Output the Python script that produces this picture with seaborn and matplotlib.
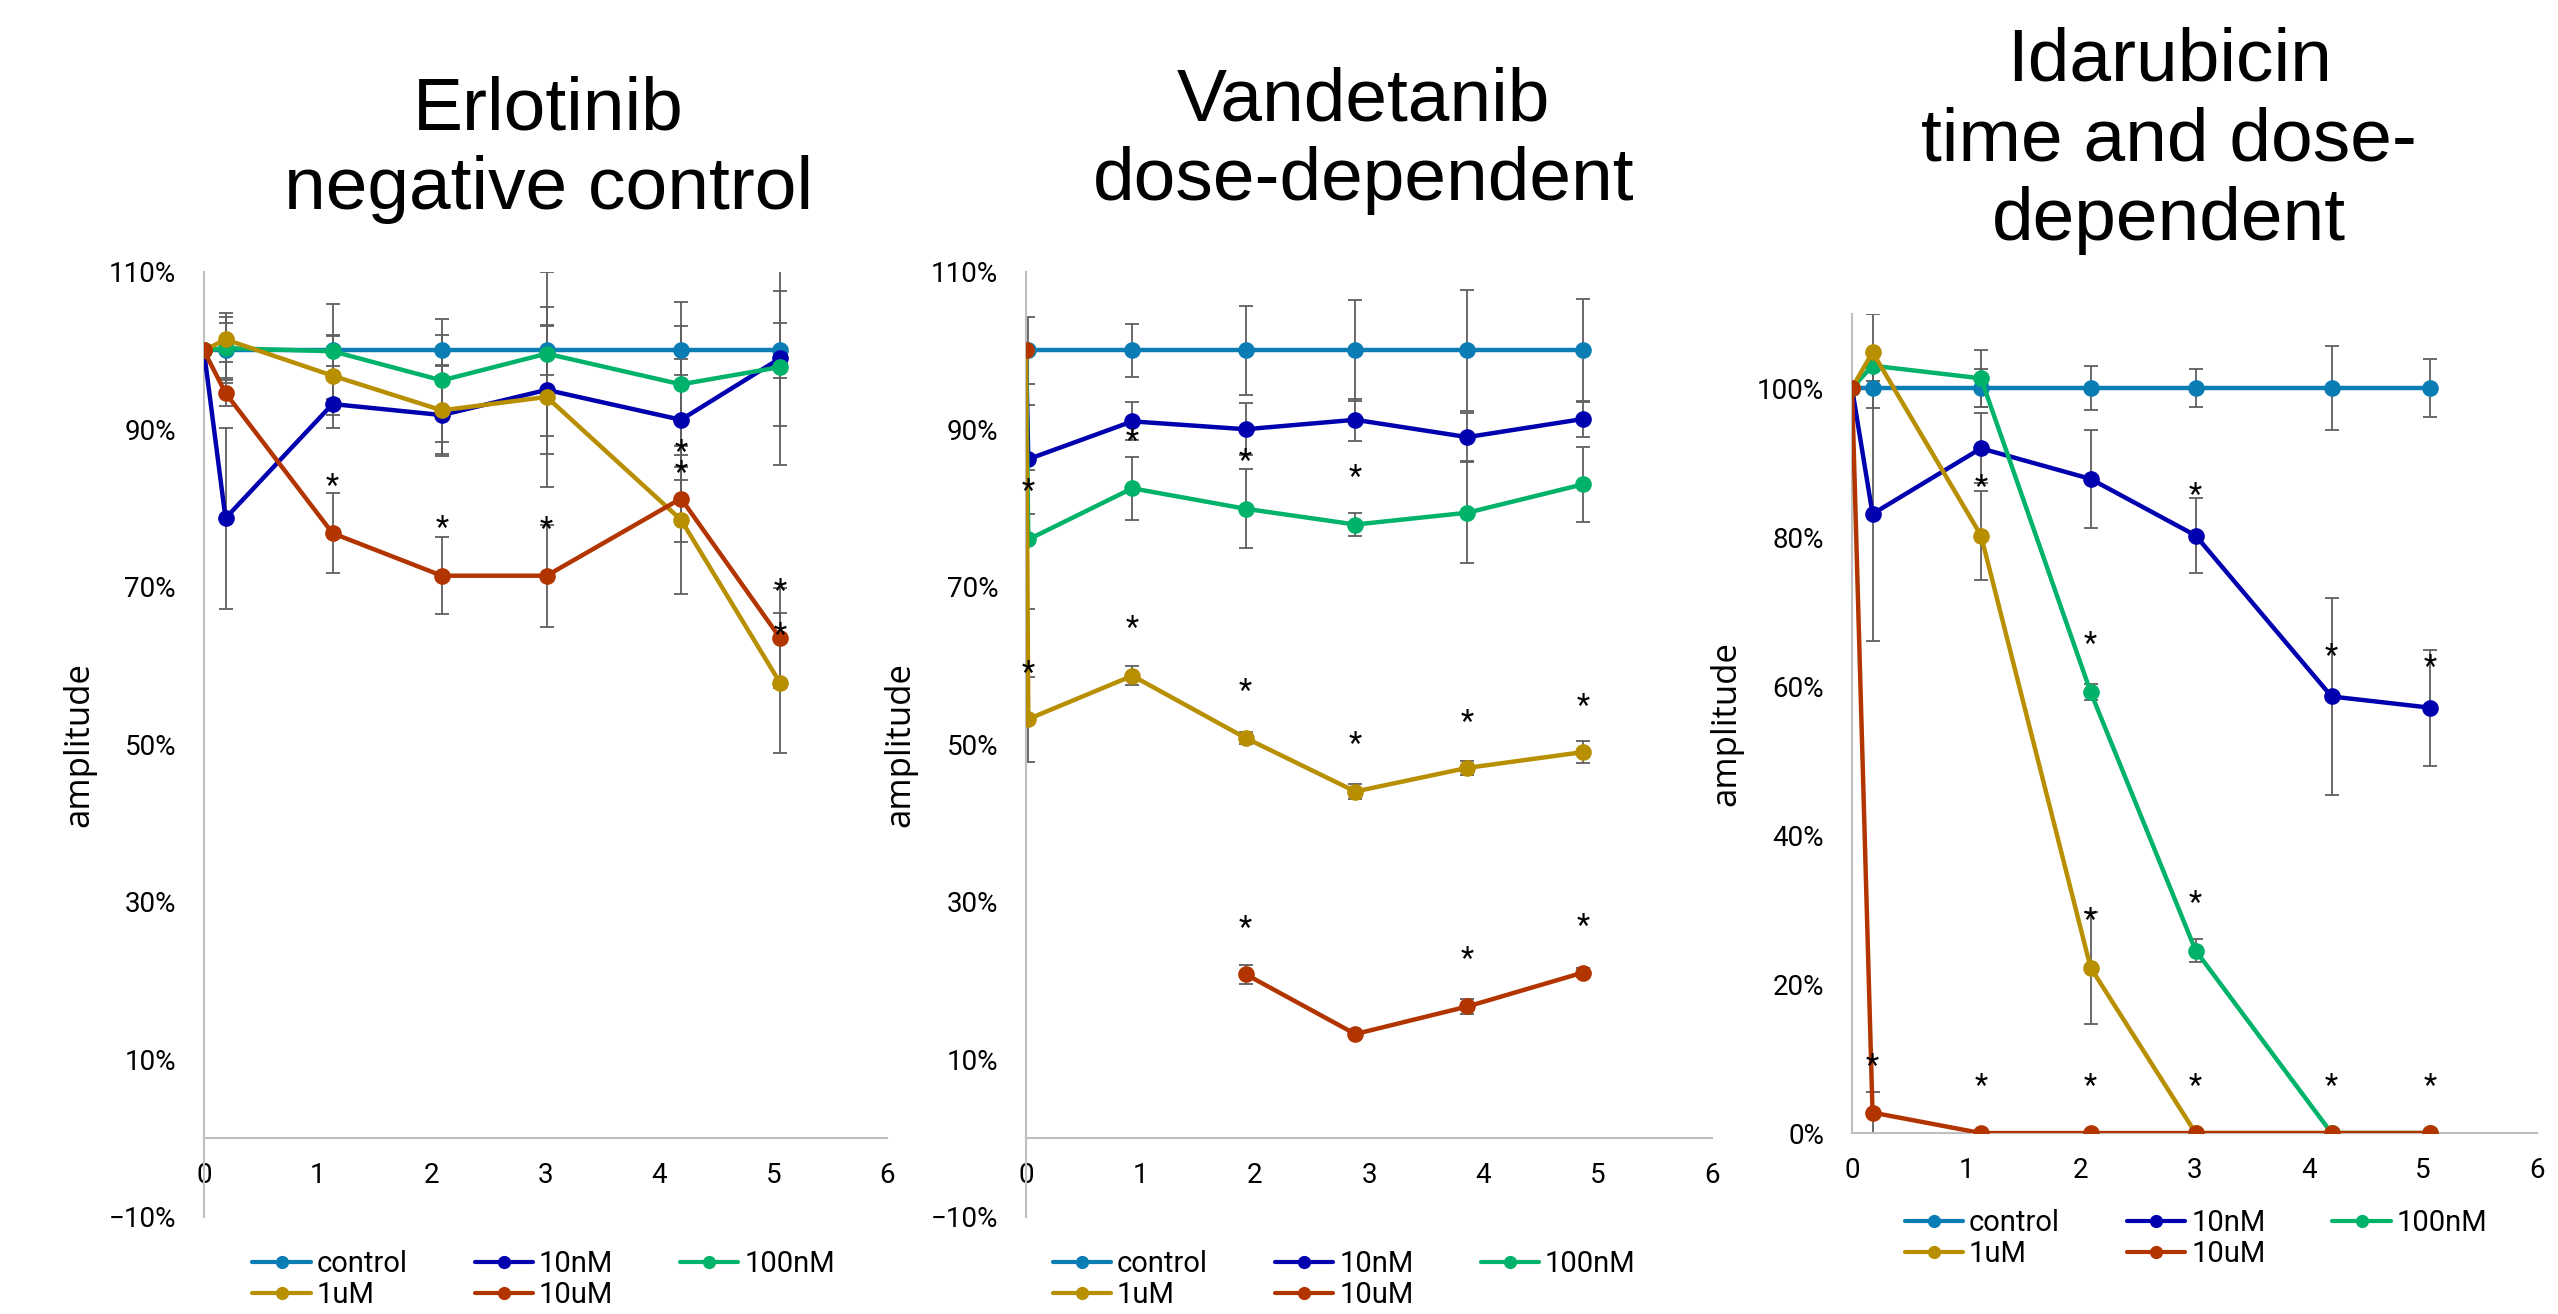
import numpy as np
import pandas as pd
import matplotlib
matplotlib.use('Agg')
import matplotlib.pyplot as plt
from matplotlib.lines import Line2D
from matplotlib.ticker import PercentFormatter
import seaborn as sns

series_names = ['control', '10nM', '100nM', '1uM', '10uM']
series_colors = ['#0B7DB5', '#0000AF', '#00B26A', '#B88F00', '#B23500']
nan = np.nan

# Erlotinib - negative control
erl_time = [0, 0.19, 1.13, 2.09, 3.01, 4.19, 5.06]
erl_control = [100, 100, 100, 100, 100, 100, 100]
erl_10nM = [100, 78.7, 93.2, 91.8, 95.0, 91.2, 99.0]
erl_100nM = [100, 100.3, 99.9, 96.2, 99.6, 95.7, 97.9]
erl_1uM = [100, 101.4, 96.8, 92.4, 94.1, 78.5, 57.8]
erl_10uM = [100, 94.6, 76.8, 71.4, 71.4, 81.2, 63.5]
erl_control_err = [0, 3.5, 2.0, 2.0, 3.1, 3.1, 3.5]
erl_10nM_err = [0, 11.5, 3.0, 5.0, 8.2, 7.7, 8.6]
erl_100nM_err = [0, 4.4, 6.0, 7.8, 10.4, 10.5, 12.4]
erl_1uM_err = [0, 2.8, 5.0, 5.8, 11.4, 9.4, 8.9]
erl_10uM_err = [0, 1.6, 5.1, 4.9, 6.5, 5.5, 6.3]
erl_star_x = [1.13, 2.09, 3.01, 4.19, 4.19, 5.06, 5.06]
erl_star_y = [83.8, 78.5, 78.3, 88.1, 85.4, 70.4, 64.8]

# Vandetanib - dose-dependent
van_time = [0, 0.02, 0.93, 1.92, 2.88, 3.86, 4.87]
van_control = [100, 100, 100, 100, 100, 100, 100]
van_10nM = [100, 86.2, 91.0, 90.0, 91.2, 89.0, 91.3]
van_100nM = [100, 76.0, 82.5, 79.9, 77.9, 79.4, 83.0]
van_1uM = [100, 53.2, 58.7, 50.8, 44.0, 47.0, 49.0]
van_10uM = [100, nan, nan, 20.8, 13.2, 16.7, 21.0]
van_control_err = [0, 4.2, 3.4, 5.6, 6.4, 7.7, 6.6]
van_10nM_err = [0, 6.9, 2.4, 3.3, 2.7, 3.0, 2.3]
van_100nM_err = [0, 8.8, 4.0, 5.0, 1.5, 6.4, 4.8]
van_1uM_err = [0, 5.4, 1.2, 0.8, 0.9, 0.9, 1.4]
van_10uM_err = [0, nan, nan, 1.2, 0.4, 0.9, 0.6]
van_star_x = [0.02, 0.02, 0.93, 0.93, 1.92, 1.92, 1.92, 2.88, 2.88, 3.86, 3.86, 4.87, 4.87]
van_star_y = [83.1, 60.0, 89.5, 65.7, 86.9, 57.7, 27.7, 84.9, 51.0, 53.8, 23.7, 55.8, 27.9]

# Idarubicin - time and dose-dependent
ida_time = [0, 0.18, 1.13, 2.09, 3.01, 4.20, 5.06]
ida_control = [100, 100, 100, 100, 100, 100, 100]
ida_10nM = [100, 83.1, 91.9, 87.8, 80.2, 58.6, 57.1]
ida_100nM = [100, 103.0, 101.3, 59.2, 24.5, 0, 0]
ida_1uM = [100, 104.8, 80.2, 22.2, 0, 0, 0]
ida_10uM = [100, 2.75, 0, 0, 0, 0, 0]
ida_control_err = [0, 2.7, 2.5, 3.0, 2.6, 5.6, 3.9]
ida_10nM_err = [0, 17.0, 4.7, 6.6, 5.0, 13.2, 7.8]
ida_100nM_err = [0, 2.0, 3.8, 1.1, 1.5, 0, 0]
ida_1uM_err = [0, 5.1, 6.0, 7.5, 0, 0, 0]
ida_10uM_err = [0, 2.7, 0, 0, 0, 0, 0]
ida_star_x = [0.18, 1.13, 1.13, 2.09, 2.09, 2.09, 3.01, 3.01, 3.01, 4.20, 4.20, 5.06, 5.06]
ida_star_y = [10.1, 87.7, 7.4, 66.7, 29.6, 7.4, 86.7, 31.9, 7.4, 65.1, 7.4, 63.6, 7.4]

sns.set_theme(style='white')
plt.rcParams['font.family'] = ['Roboto', 'DejaVu Sans']
plt.rcParams['text.color'] = 'black'
plt.rcParams['axes.labelcolor'] = 'black'

ERR_COLOR = '#5F5F5F'
AXIS_COLOR = '#BFBFBF'


def draw_panel(ax, time, values, errors, star_x, star_y, ylim, yticks, legend_xy):
    frames = []
    for name, vals, errs in zip(series_names, values, errors):
        df = pd.DataFrame({'time': time, 'value': vals, 'err': errs})
        # break the line where a value is missing
        df['segment'] = df['value'].isna().cumsum()
        frames.append(df.dropna())

    # error bars go underneath the lines
    for df in frames:
        ok = df['err'] > 0
        ax.errorbar(df.loc[ok, 'time'], df.loc[ok, 'value'], yerr=df.loc[ok, 'err'],
                    fmt='none', ecolor=ERR_COLOR, elinewidth=1.3, capsize=5,
                    capthick=1.3, zorder=1)

    for i, (df, color) in enumerate(zip(frames, series_colors)):
        sns.lineplot(data=df, x='time', y='value', units='segment', estimator=None,
                     color=color, marker='o', markersize=12, markeredgewidth=0,
                     linewidth=3.2, ax=ax, legend=False, zorder=2 + i)

    for sx, sy in zip(star_x, star_y):
        ax.annotate('*', (sx, sy), xytext=(0, -12), textcoords='offset points',
                    ha='center', va='baseline', fontsize=22, color='black',
                    annotation_clip=False, zorder=10)

    ax.set_xlim(0, 6)
    ax.set_ylim(*ylim)
    ax.set_xticks(range(7))
    ax.set_yticks(yticks)
    ax.yaxis.set_major_formatter(PercentFormatter(decimals=0))
    ax.spines['bottom'].set_position(('data', 0))
    for side in ['top', 'right']:
        ax.spines[side].set_visible(False)
    for side in ['left', 'bottom']:
        ax.spines[side].set_color(AXIS_COLOR)
        ax.spines[side].set_linewidth(1.5)
    ax.tick_params(axis='both', length=0, labelsize=20, colors='black')
    ax.tick_params(axis='y', pad=20)
    ax.tick_params(axis='x', pad=17)
    ax.set_xlabel('')
    ax.set_ylabel('amplitude', fontsize=25, family='Open Sans', color='black')
    ax.yaxis.set_label_coords(-0.158, 0.5)
    ax.set_facecolor('white')

    handles = [Line2D([], [], color=c, marker='o', lw=3, ms=9.5, mew=0) for c in series_colors]
    order = [0, 3, 1, 4, 2]
    ax.legend([handles[i] for i in order], [series_names[i] for i in order], ncol=3,
              loc='upper left', bbox_to_anchor=legend_xy, frameon=False, borderpad=0,
              borderaxespad=0, handlelength=2.0, handletextpad=0.2, columnspacing=2.3,
              labelspacing=0.1, prop={'family': 'Roboto', 'size': 21})


fig = plt.figure(figsize=(25.58, 13.14), dpi=100)
fig.patch.set_facecolor('white')

ax1 = fig.add_axes([0.0797, 0.0740, 0.2671, 0.7192])
ax2 = fig.add_axes([0.4011, 0.0740, 0.2682, 0.7192])
ax3 = fig.add_axes([0.7240, 0.1377, 0.2678, 0.6237])

draw_panel(ax1, erl_time,
           [erl_control, erl_10nM, erl_100nM, erl_1uM, erl_10uM],
           [erl_control_err, erl_10nM_err, erl_100nM_err, erl_1uM_err, erl_10uM_err],
           erl_star_x, erl_star_y, (-10, 110), [-10, 10, 30, 50, 70, 90, 110], (0.071, -0.035))
draw_panel(ax2, van_time,
           [van_control, van_10nM, van_100nM, van_1uM, van_10uM],
           [van_control_err, van_10nM_err, van_100nM_err, van_1uM_err, van_10uM_err],
           van_star_x, van_star_y, (-10, 110), [-10, 10, 30, 50, 70, 90, 110], (0.039, -0.035))
draw_panel(ax3, ida_time,
           [ida_control, ida_10nM, ida_100nM, ida_1uM, ida_10uM],
           [ida_control_err, ida_10nM_err, ida_100nM_err, ida_1uM_err, ida_10uM_err],
           ida_star_x, ida_star_y, (0, 110), [0, 20, 40, 60, 80, 100], (0.077, -0.093))

title_font = ['Liberation Sans', 'DejaVu Sans']
fig.text(0.2143, 0.886, 'Erlotinib\nnegative control', ha='center', va='center',
         fontsize=54, family=title_font, linespacing=1.2, color='black')
fig.text(0.5330, 0.893, 'Vandetanib\ndose-dependent', ha='center', va='center',
         fontsize=54, family=title_font, linespacing=1.2, color='black')
fig.text(0.8480, 0.893, 'Idarubicin\ntime and dose-\ndependent', ha='center', va='center',
         fontsize=54, family=title_font, linespacing=1.2, color='black')

fig.savefig('out.png', dpi=100, facecolor='white')
